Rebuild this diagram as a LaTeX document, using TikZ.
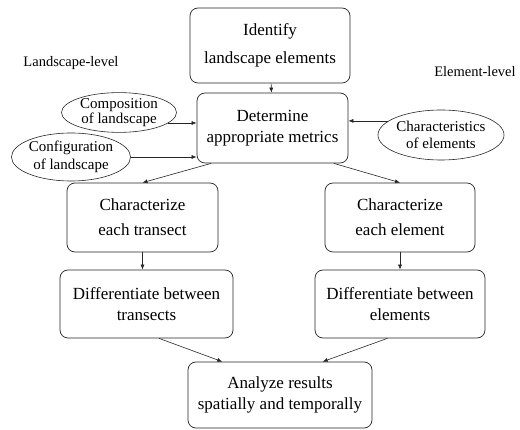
\documentclass[tikz,border=0pt]{standalone}
\usepackage{fontspec}
\setmainfont{Liberation Serif}
\usepackage{tikz}
\usetikzlibrary{arrows.meta, positioning, shapes.geometric}

\tikzset{
    stepbox/.style={draw=black!85, line width=0.7pt, rounded corners=8pt, align=center,
        font=\fontsize{17}{21}\selectfont, inner sep=2pt},
    oval/.style={ellipse, draw=black!85, line width=0.6pt, align=center, inner sep=0pt,
        font=\fontsize{15}{16}\selectfont},
    arr/.style={-{Latex[length=5pt, width=4pt]}, line width=0.6pt, black!85},
    lvl/.style={font=\fontsize{14.5}{16}\selectfont}
}

\begin{document}
\begin{tikzpicture}[x=1pt, y=-1pt]
    \useasboundingbox (0, 0) rectangle (520, 430);

    % Steps
    \node[stepbox, minimum width=160, minimum height=75, font=\fontsize{17}{28}\selectfont] (idf) at (270, 45.5) {Identify\\landscape elements};
    \node[stepbox, minimum width=151, minimum height=70] (det) at (272.5, 128) {Determine\\appropriate metrics};
    \node[stepbox, minimum width=151, minimum height=69, font=\fontsize{17}{25}\selectfont] (chl) at (142.5, 217.5) {Characterize\\each transect};
    \node[stepbox, minimum width=150, minimum height=69, font=\fontsize{17}{25}\selectfont] (chr) at (400, 217.5) {Characterize\\each element};
    \node[stepbox, minimum width=173, minimum height=68] (dfl) at (146.5, 304) {Differentiate between\\transects};
    \node[stepbox, minimum width=170, minimum height=68] (dfr) at (400, 304) {Differentiate between\\elements};
    \node[stepbox, minimum width=184, minimum height=66] (ana) at (280, 395) {Analyze results\\spatially and temporally};

    % Inputs
    \node[oval, minimum width=115, minimum height=35, font=\fontsize{15}{15}\selectfont] (comp) at (119, 112.5) {Composition\\of landscape};
    \node[oval, minimum width=112, minimum height=48, font=\fontsize{15}{18}\selectfont] (conf) at (71, 157) {Configuration\\of landscape};
    \node[oval, minimum width=118, minimum height=50, font=\fontsize{15}{17}\selectfont] (char) at (441, 135) {Characteristics\\of elements};

    % Levels
    \node[lvl] (land) at (71, 63) {Landscape-level};
    \node[lvl] (elem) at (475, 72) {Element-level};

    % Arrows
    \draw[arr] (idf) -- (det);
    \draw[arr] (comp.-12) -- (comp.-12 -| det.west);
    \draw[arr] (conf.east) -- (conf.east -| det.west);
    \draw[arr] (char.165) -- (char.165 -| det.east);
    \draw[arr] (det.210) -- (chl.north);
    \draw[arr] (det.330) -- (chr.north);
    \draw[arr] (chl.south) -- (chl.south |- dfl.north);
    \draw[arr] (chr.south) -- (chr.south |- dfr.north);
    \draw[arr] (dfl.-70) -- (ana.150);
    \draw[arr] (dfr.-110) -- (ana.38);
\end{tikzpicture}
\end{document}
